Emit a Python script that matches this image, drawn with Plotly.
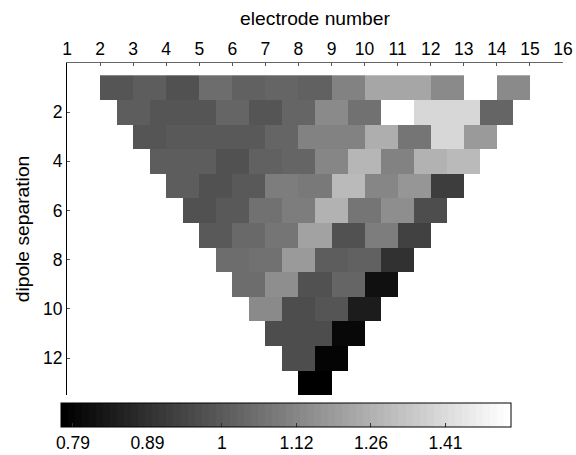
import numpy as np
import plotly.graph_objects as go

# Apparent resistivity ratio, row n = dipole separation (1..13), cells left->right
row1 = [0.98, 1.01, 0.97, 1.05, 1.02, 1.03, 1.02, 1.11, 1.22, 1.22, 1.14, 1.58, 1.14]
row2 = [1.01, 0.98, 0.99, 1.03, 0.98, 1.03, 1.13, 1.06, 1.60, 1.40, 1.40, 1.03]
row3 = [0.98, 1.00, 1.00, 1.00, 1.03, 1.11, 1.11, 1.25, 1.07, 1.40, 1.19]
row4 = [1.01, 1.01, 0.975, 1.02, 1.03, 1.12, 1.28, 1.11, 1.26, 1.29]
row5 = [1.01, 0.975, 1.00, 1.10, 1.09, 1.29, 1.12, 1.17, 0.92]
row6 = [0.97, 1.00, 1.06, 1.10, 1.26, 1.07, 1.15, 0.965]
row7 = [1.00, 1.04, 1.07, 1.21, 0.97, 1.10, 0.93]
row8 = [1.05, 1.06, 1.18, 1.01, 1.02, 0.89]
row9 = [1.05, 1.15, 0.97, 1.03, 0.815]
row10 = [1.13, 0.96, 0.99, 0.85]
row11 = [0.96, 0.965, 0.80]
row12 = [0.965, 0.79]
row13 = [0.78]
rows = [row1, row2, row3, row4, row5, row6, row7, row8, row9, row10, row11, row12, row13]

n_electrodes = 16
electrodes = list(range(1, n_electrodes + 1))
sep_ticks = [2, 4, 6, 8, 10, 12]
cbar_labels = ['0.79', '0.89', '1', '1.12', '1.26', '1.41']
cbar_logticks = [-0.1, -0.05, 0.0, 0.05, 0.1, 0.15]

# half-electrode grid so that staggered rows can be drawn with a heatmap
ncol = 2 * (n_electrodes - 1)
xc = [1.25 + 0.5 * k for k in range(ncol)]
Z = [[None] * ncol for _ in rows]
for i, vals in enumerate(rows):
    n = i + 1
    for j, v in enumerate(vals):
        c = (n + 4) / 2 + j          # pseudosection midpoint (dipole-dipole)
        k0 = int(round(2 * c - 3))
        Z[i][k0] = np.log10(v)
        Z[i][k0 + 1] = np.log10(v)

# MATLAB-like 64-level gray colormap
cs = []
N = 64
for i in range(N):
    g = int(round(i / (N - 1) * 255))
    col = f'rgb({g},{g},{g})'
    cs.append([i / N, col])
    cs.append([(i + 1) / N, col])

font = dict(family='Liberation Sans, Arial, sans-serif', size=17.5, color='black')
tfont = dict(family='Liberation Sans, Arial, sans-serif', size=19.25, color='black')

fig = go.Figure(go.Heatmap(
    x=xc, y=list(range(1, len(rows) + 1)), z=Z,
    colorscale=cs, zmin=-0.108, zmax=0.194,
    hoverongaps=False,
    colorbar=dict(
        orientation='h', lenmode='pixels', len=450, thickness=24,
        x=-0.0121, xanchor='left', y=-0.024, yanchor='top',
        xpad=0, ypad=0,
        outlinecolor='black', outlinewidth=1,
        tickvals=cbar_logticks, ticktext=cbar_labels,
        ticks='inside', ticklen=4, tickcolor='#333',
        tickfont=font,
    ),
))

fig.update_layout(
    width=576, height=455,
    margin=dict(l=67, r=13, t=63, b=60, autoexpand=False),
    paper_bgcolor='white', plot_bgcolor='white',
    font=font,
    xaxis=dict(
        side='top', range=[1, 16], tickvals=electrodes,
        ticks='inside', ticklen=3, tickcolor='#555',
        showline=True, linecolor='#666', linewidth=1,
        showgrid=False, zeroline=False, automargin=False,
        title=dict(text='electrode number', font=tfont, standoff=8),
    ),
    yaxis=dict(
        range=[13.5, 0], tickvals=sep_ticks,
        ticks='inside', ticklen=3, tickcolor='#555',
        showline=True, linecolor='black', linewidth=1,
        showgrid=False, zeroline=False, automargin=False,
        title=dict(text='dipole separation', font=tfont, standoff=8),
    ),
)

fig.write_html('out.html')
